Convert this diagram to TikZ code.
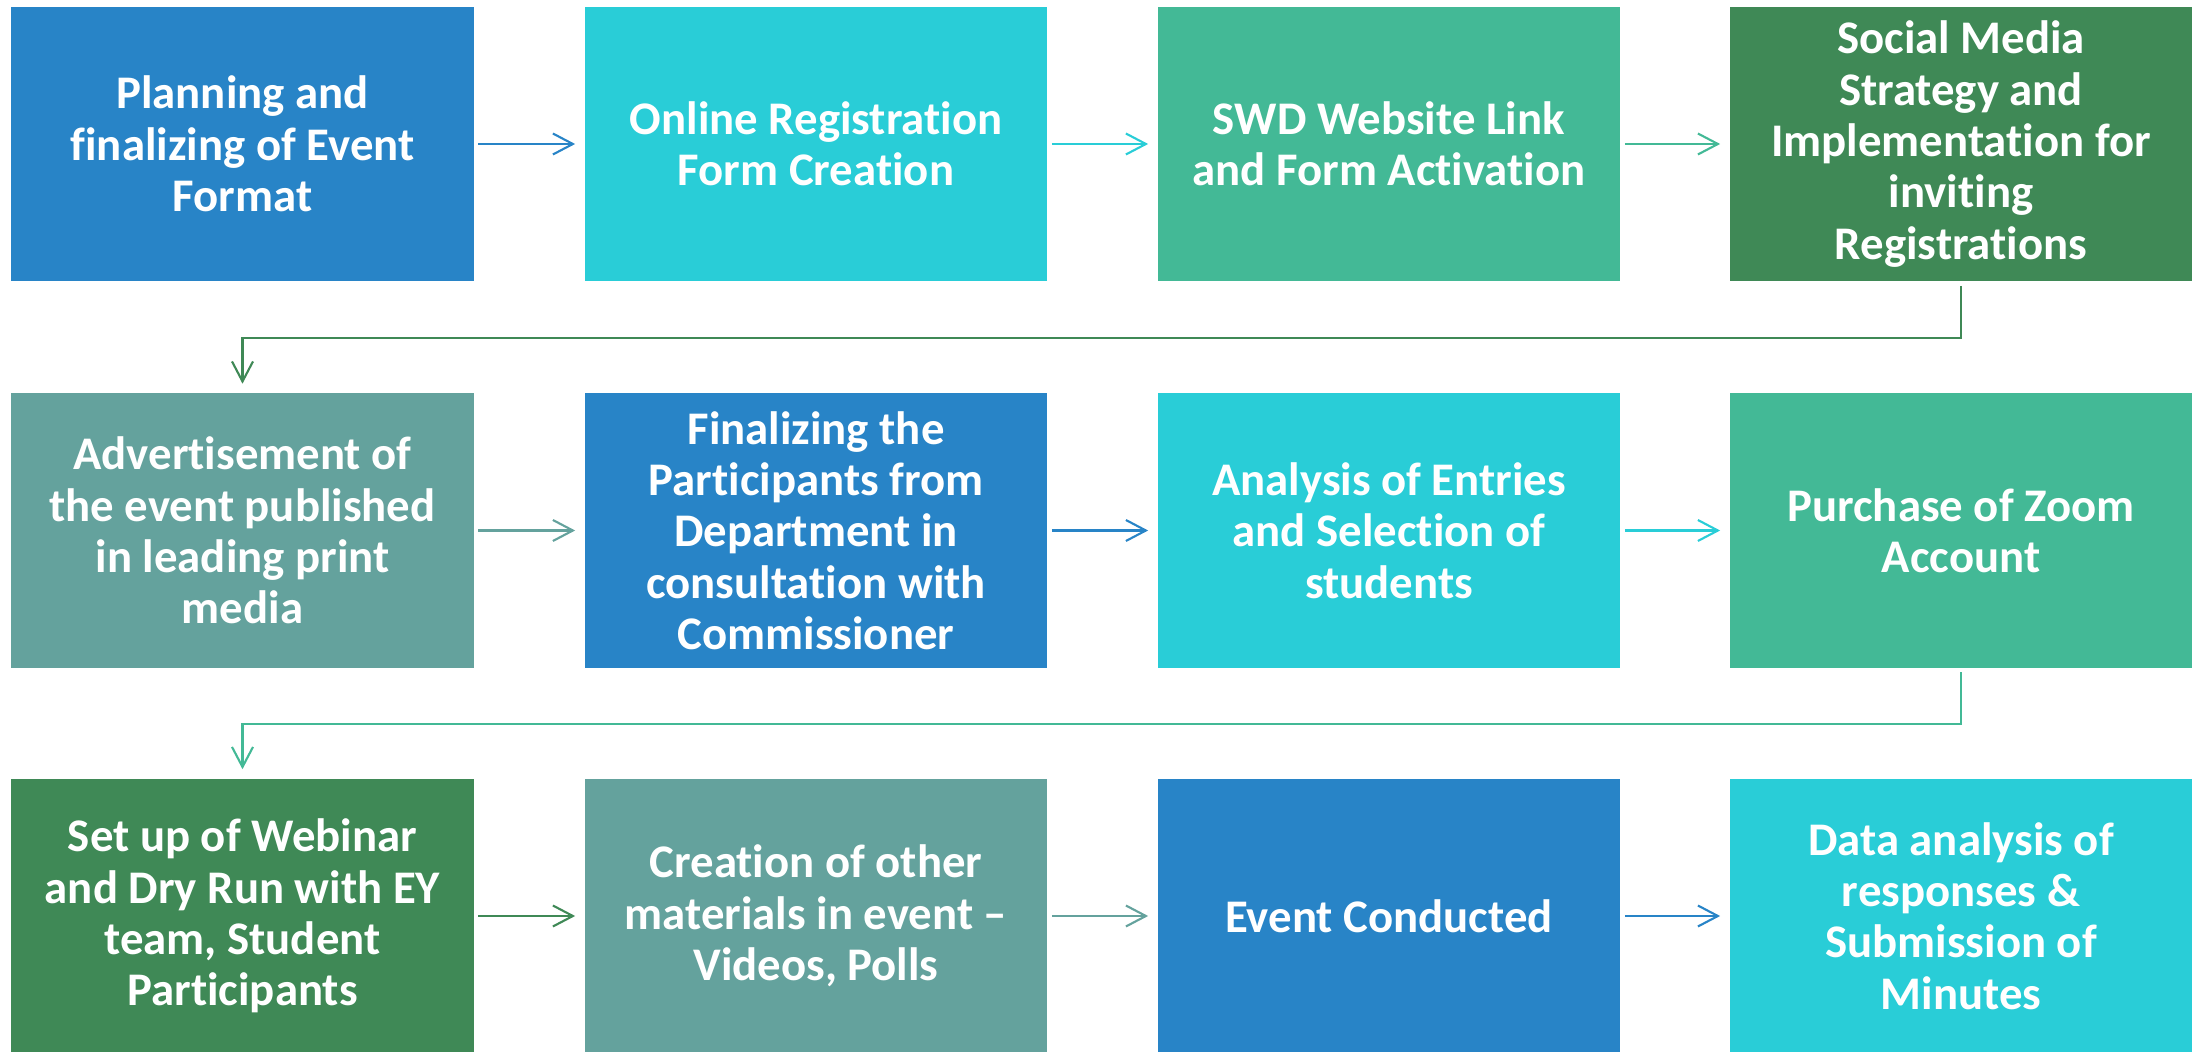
\documentclass[tikz,border=0pt]{standalone}
\usepackage{fontspec}
\setmainfont{Carlito}[Ligatures=NoCommon]
\usetikzlibrary{arrows.meta}

\definecolor{stepblue} {RGB}{40,132,199}
\definecolor{stepcyan} {RGB}{41,205,215}
\definecolor{stepsea}  {RGB}{67,185,150}
\definecolor{stepgreen}{RGB}{63,137,86}
\definecolor{stepteal} {RGB}{100,162,157}

\tikzset{
  stepbox/.style={rectangle, minimum width=4.62cm, minimum height=2.74cm,
    inner sep=0pt, align=center, text=white,
    font=\fontsize{13.3pt}{14.6pt}\selectfont\bfseries},
  flow/.style={arrows={-{Straight Barb[length=0.2cm,width=0.21cm]}}, line width=0.6pt,
    shorten <=0.04cm, shorten >=0.09cm},
}

\begin{document}
\begin{tikzpicture}[x=0.01cm,y=-0.01cm]

    \useasboundingbox (0,0) rectangle (2205,1052);

    % first row
    \node[stepbox, fill=stepblue]  (plan)     at (242.5,144) {Planning and\\finalizing of Event\\Format};
    \node[stepbox, fill=stepcyan]  (online)   at (816,144)   {Online Registration\\Form Creation};
    \node[stepbox, fill=stepsea]   (website)  at (1389,144)  {SWD Website Link\\and Form Activation};
    \node[stepbox, fill=stepgreen] (social)   at (1961,144)  {Social Media\\Strategy and\\Implementation for\\inviting\\Registrations};

    % second row
    \node[stepbox, fill=stepteal]  (advert)   at (242.5,530.5) {Advertisement of\\the event published\\in leading print\\media};
    \node[stepbox, fill=stepblue]  (finalize) at (816,530.5)   {Finalizing the\\Participants from\\Department in\\consultation with\\Commissioner};
    \node[stepbox, fill=stepcyan]  (analysis) at (1389,530.5)  {Analysis of Entries\\and Selection of\\students};
    \node[stepbox, fill=stepsea]   (zoom)     at (1961,530.5)  {Purchase of Zoom\\Account};

    % third row
    \node[stepbox, fill=stepgreen] (webinar)  at (242.5,916) {Set up of Webinar\\and Dry Run with EY\\team, Student\\Participants};
    \node[stepbox, fill=stepteal]  (material) at (816,916)   {Creation of other\\materials in event –\\Videos, Polls};
    \node[stepbox, fill=stepblue]  (conduct)  at (1389,916)  {Event Conducted};
    \node[stepbox, fill=stepcyan]  (minutes)  at (1961,916)  {Data analysis of\\responses \&\\Submission of\\Minutes};

    \draw[flow, stepblue]  (plan) to (online);
    \draw[flow, stepcyan]  (online) to (website);
    \draw[flow, stepsea]   (website) to (social);
    \draw[flow, stepgreen] (social.south) -- ++(0,56) -| (advert.north);

    \draw[flow, stepteal]  (advert) to (finalize);
    \draw[flow, stepblue]  (finalize) to (analysis);
    \draw[flow, stepcyan]  (analysis) to (zoom);
    \draw[flow, stepsea]   (zoom.south) -- ++(0,56) -| (webinar.north);

    \draw[flow, stepgreen] (webinar) to (material);
    \draw[flow, stepteal]  (material) to (conduct);
    \draw[flow, stepblue]  (conduct) to (minutes);

  \end{tikzpicture}
\end{document}
